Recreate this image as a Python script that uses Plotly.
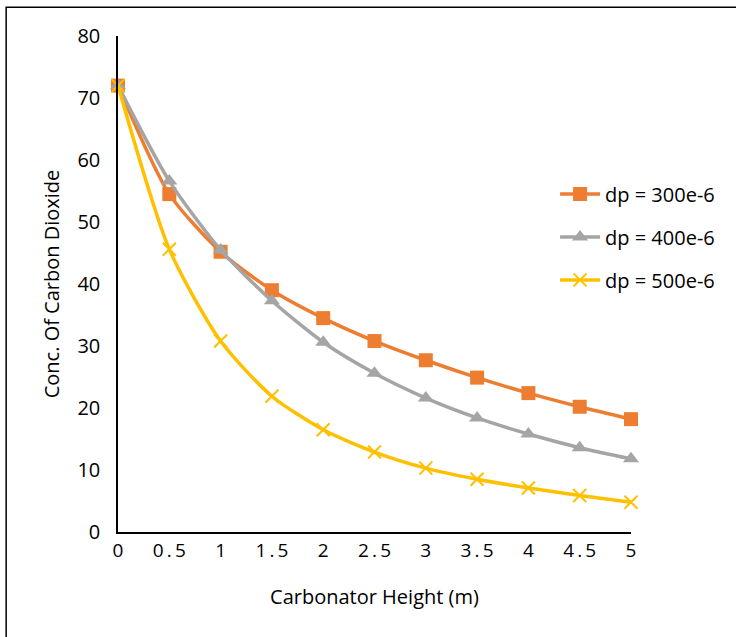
import plotly.graph_objects as go

heights = [0, 0.5, 1, 1.5, 2, 2.5, 3, 3.5, 4, 4.5, 5]
tick_labels = ["0", "0\u2009.\u20095", "1", "1\u2009.\u20095", "2", "2\u2009.\u20095", "3", "3\u2009.\u20095", "4", "4\u2009.\u20095", "5"]
dp300 = [72, 54.5, 45.2, 39.0, 34.5, 30.8, 27.7, 24.9, 22.4, 20.2, 18.2]
dp400 = [72, 56.6, 45.5, 37.3, 30.6, 25.6, 21.6, 18.4, 15.8, 13.6, 11.8]
dp500 = [72, 45.6, 30.8, 21.9, 16.5, 12.9, 10.3, 8.5, 7.1, 5.9, 4.8]

font = "Open Sans, Liberation Sans, sans-serif"
fig = go.Figure()
fig.add_trace(go.Scatter(x=heights, y=dp300, name="dp = 300e-6", mode="lines+markers", legendgroup="a",
                         line=dict(color="#ED7D31", width=3.5, shape="spline", smoothing=0.7),
                         marker=dict(symbol="square", size=14, color="#ED7D31")))
fig.add_trace(go.Scatter(x=heights, y=dp400, name="dp = 400e-6", mode="lines+markers", legendgroup="b",
                         line=dict(color="#A5A5A5", width=3.5, shape="spline", smoothing=0.7),
                         marker=dict(symbol="triangle-up", size=14, color="#A5A5A5")))
fig.add_trace(go.Scatter(x=heights, y=dp500, name="dp = 500e-6", mode="lines+markers", legendgroup="c",
                         line=dict(color="#FFC000", width=3.5, shape="spline", smoothing=0.7),
                         marker=dict(symbol="x-thin", size=13, color="#FFC000",
                                     line=dict(color="#FFC000", width=2))))
fig.update_traces(cliponaxis=False)
fig.update_layout(
    width=736, height=637,
    margin=dict(l=118, r=105, t=36, b=105),
    paper_bgcolor="white", plot_bgcolor="white",
    font=dict(family=font, size=19, color="black"),
    xaxis=dict(range=[0, 5], tickvals=heights, ticktext=tick_labels, showgrid=False,
               showline=True, linecolor="black", linewidth=1.5, ticks="", zeroline=False,
               title=dict(text="Carbonator Height (m)", font=dict(size=20), standoff=28),
               tickfont=dict(size=19)),
    yaxis=dict(range=[0, 80], dtick=10, showgrid=False, showline=True, linecolor="black",
               linewidth=1.5, ticks="", zeroline=False, ticklabelstandoff=12,
               title=dict(text="Conc. Of Carbon Dioxide", font=dict(size=20), standoff=12),
               tickfont=dict(size=20)),
    legend=dict(x=0.852, y=0.595, xanchor="left", yanchor="middle", bgcolor="rgba(0,0,0,0)",
                font=dict(size=20), tracegroupgap=14, itemwidth=40),
    shapes=[dict(type="rect", xref="paper", yref="paper", x0=-0.218, x1=1.4, y0=-0.3, y1=1.058,
                 line=dict(color="black", width=1.5), layer="below")]
)
fig.write_html("out.html")
